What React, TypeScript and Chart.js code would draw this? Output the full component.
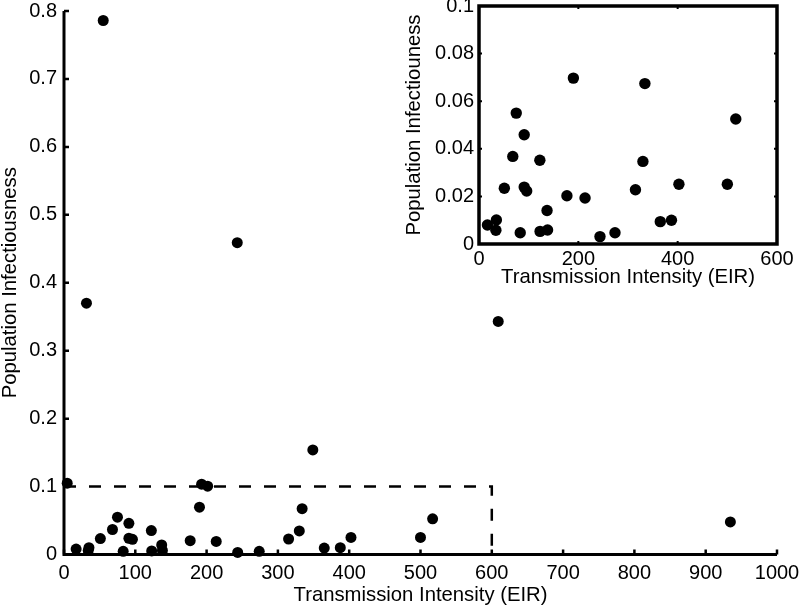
import React, { useEffect, useRef } from "react";
import { Chart, registerables } from "chart.js";

Chart.register(...registerables);

// ---- data ----
const EIR = [
  4.5, 17, 34, 35, 31.5, 51, 55, 68, 75, 83, 91, 91, 96, 122.5, 123, 138, 137,
  177, 190, 193, 201.5, 213.5, 243, 243.6, 273.8, 315, 330, 334, 349, 365,
  387.5, 402.5, 500, 517, 609, 934.6,
];
const INFECTIOUSNESS = [
  0.105, 0.008, 0.0058, 0.0101, 0.37, 0.0234, 0.786, 0.0368, 0.055, 0.0047,
  0.0459, 0.0239, 0.0223, 0.0352, 0.0053, 0.0059, 0.0141, 0.0203, 0.0697,
  0.1035, 0.1005, 0.0193, 0.459, 0.0031, 0.0047, 0.0228, 0.0347, 0.0674,
  0.154, 0.0094, 0.01, 0.0251, 0.0251, 0.0525, 0.343, 0.048,
];
const MAIN_X_TICKS = [0, 100, 200, 300, 400, 500, 600, 700, 800, 900, 1000];
const MAIN_Y_TICKS = [0, 0.1, 0.2, 0.3, 0.4, 0.5, 0.6, 0.7, 0.8];
const INSET_X_TICKS = [0, 200, 400, 600];
const INSET_Y_TICKS = [0, 0.02, 0.04, 0.06, 0.08, 0.1];
const ZOOM_BOX_X = [0, 600, 600];
const ZOOM_BOX_Y = [0.1, 0.1, 0];
const X_TITLE = "Transmission Intensity (EIR)";
const MAIN_Y_TITLE = "Population Infectiousness";
const INSET_Y_TITLE = "Population Infectiouness";

const FONT_FAMILY = "'Liberation Sans', Arial, Helvetica, sans-serif";
const tickFont = { family: FONT_FAMILY, size: 20 };
const titleFont = { family: FONT_FAMILY, size: 20.3, lineHeight: 1 };

const fmt = (v: number) => String(Math.round(v * 10000) / 10000);

function framePlugin(id: string, box: boolean, tickLen: number, lw: number, tw: number) {
  return {
    id,
    beforeDatasetsDraw(chart: any) {
      const { ctx, chartArea: a, scales } = chart;
      const xs = scales.x;
      const ys = scales.y;
      ctx.save();
      ctx.strokeStyle = "#000";
      ctx.lineWidth = lw;
      ctx.lineJoin = "miter";
      ctx.beginPath();
      if (box) {
        ctx.rect(a.left, a.top, a.right - a.left, a.bottom - a.top);
      } else {
        ctx.moveTo(a.left, a.top);
        ctx.lineTo(a.left, a.bottom);
        ctx.lineTo(a.right, a.bottom);
      }
      ctx.stroke();
      ctx.lineWidth = tw;
      ctx.beginPath();
      for (const t of xs.ticks) {
        const px = xs.getPixelForValue(t.value);
        ctx.moveTo(px, a.bottom);
        ctx.lineTo(px, a.bottom - tickLen);
        if (box) {
          ctx.moveTo(px, a.top);
          ctx.lineTo(px, a.top + tickLen);
        }
      }
      for (const t of ys.ticks) {
        const py = ys.getPixelForValue(t.value);
        ctx.moveTo(a.left, py);
        ctx.lineTo(a.left + tickLen, py);
        if (box) {
          ctx.moveTo(a.right, py);
          ctx.lineTo(a.right - tickLen, py);
        }
      }
      ctx.stroke();
      ctx.restore();
    },
  };
}

function makeScales(opts: {
  xMin: number; xMax: number; xTicks: number[];
  yMin: number; yMax: number; yTicks: number[];
  yTitle: string; yAxisWidth: number; xAxisHeight: number;
  xTickPad: number; yTickPad: number; xTitlePadBottom: number; yTitlePadTop: number;
}) {
  return {
    x: {
      type: "linear",
      min: opts.xMin,
      max: opts.xMax,
      afterBuildTicks: (s: any) => {
        s.ticks = opts.xTicks.map((v) => ({ value: v }));
      },
      ticks: {
        color: "#000",
        font: tickFont,
        padding: opts.xTickPad,
        maxRotation: 0,
        autoSkip: false,
        callback: (v: any) => fmt(Number(v)),
      },
      grid: { display: false, drawTicks: false },
      border: { display: false },
      title: {
        display: true,
        text: X_TITLE,
        color: "#000",
        font: titleFont,
        padding: { top: 0, bottom: opts.xTitlePadBottom },
      },
      afterFit: (s: any) => {
        s.height = opts.xAxisHeight;
        s.paddingLeft = 0;
        s.paddingRight = 0;
      },
    },
    y: {
      type: "linear",
      min: opts.yMin,
      max: opts.yMax,
      afterBuildTicks: (s: any) => {
        s.ticks = opts.yTicks.map((v) => ({ value: v }));
      },
      ticks: {
        color: "#000",
        font: tickFont,
        padding: opts.yTickPad,
        autoSkip: false,
        callback: (v: any) => fmt(Number(v)),
      },
      grid: { display: false, drawTicks: false },
      border: { display: false },
      title: {
        display: true,
        text: opts.yTitle,
        color: "#000",
        font: titleFont,
        padding: { top: opts.yTitlePadTop, bottom: 0 },
      },
      afterFit: (s: any) => {
        s.width = opts.yAxisWidth;
        s.paddingTop = 0;
        s.paddingBottom = 0;
      },
    },
  };
}

export default function App() {
  const mainRef = useRef<HTMLCanvasElement>(null);
  const insetRef = useRef<HTMLCanvasElement>(null);

  useEffect(() => {
    const allPoints = EIR.map((x, i) => ({ x, y: INFECTIOUSNESS[i] }));
    const boxPoints = ZOOM_BOX_X.map((x, i) => ({ x, y: ZOOM_BOX_Y[i] }));
    const insetPoints = allPoints.filter(
      (p) => p.x <= INSET_X_TICKS[INSET_X_TICKS.length - 1] && p.y <= INSET_Y_TICKS[INSET_Y_TICKS.length - 1]
    );

    const main = new Chart(mainRef.current as HTMLCanvasElement, {
      type: "scatter",
      data: {
        datasets: [
          {
            data: allPoints,
            backgroundColor: "#000",
            borderWidth: 0,
            pointRadius: 5.5,
            pointBorderWidth: 0,
            clip: false,
            order: 0,
          } as any,
          {
            data: boxPoints,
            showLine: true,
            borderColor: "#000",
            borderWidth: 2.5,
            borderDash: [12, 13],
            pointRadius: 0,
            fill: false,
            clip: false,
            order: 1,
          } as any,
        ],
      },
      options: {
        animation: false,
        responsive: false,
        maintainAspectRatio: false,
        events: [],
        layout: { padding: { left: 0, top: 11, right: 23, bottom: 0 } },
        plugins: { legend: { display: false }, tooltip: { enabled: false }, title: { display: false } },
        scales: makeScales({
          xMin: 0, xMax: 1000, xTicks: MAIN_X_TICKS,
          yMin: 0, yMax: 0.8, yTicks: MAIN_Y_TICKS,
          yTitle: MAIN_Y_TITLE, yAxisWidth: 64, xAxisHeight: 54.5,
          xTickPad: 7, yTickPad: 7, xTitlePadBottom: 3, yTitlePadTop: 0,
        }) as any,
      },
      plugins: [framePlugin("mainFrame", false, 5, 3, 2.5)],
    } as any);

    const inset = new Chart(insetRef.current as HTMLCanvasElement, {
      type: "scatter",
      data: {
        datasets: [
          {
            data: insetPoints,
            backgroundColor: "#000",
            borderWidth: 0,
            pointRadius: 5.7,
            pointBorderWidth: 0,
            clip: false,
          } as any,
        ],
      },
      options: {
        animation: false,
        responsive: false,
        maintainAspectRatio: false,
        events: [],
        layout: { padding: { left: 0, top: 6, right: 23, bottom: 0 } },
        plugins: { legend: { display: false }, tooltip: { enabled: false }, title: { display: false } },
        scales: makeScales({
          xMin: 0, xMax: 600, xTicks: INSET_X_TICKS,
          yMin: 0, yMax: 0.1, yTicks: INSET_Y_TICKS,
          yTitle: INSET_Y_TITLE, yAxisWidth: 79, xAxisHeight: 56,
          xTickPad: 3, yTickPad: 5, xTitlePadBottom: 12, yTitlePadTop: 4,
        }) as any,
      },
      plugins: [framePlugin("insetFrame", true, 3, 3.5, 2)],
    } as any);

    return () => {
      main.destroy();
      inset.destroy();
    };
  }, []);

  return (
    <div style={{ position: "absolute", left: 0, top: 0, width: 800, height: 609, background: "#fff" }}>
      <canvas
        ref={mainRef}
        width={800}
        height={609}
        style={{ position: "absolute", left: 0, top: 0, width: 800, height: 609 }}
      />
      <canvas
        ref={insetRef}
        width={400}
        height={300}
        style={{ position: "absolute", left: 400, top: 0, width: 400, height: 300 }}
      />
    </div>
  );
}
